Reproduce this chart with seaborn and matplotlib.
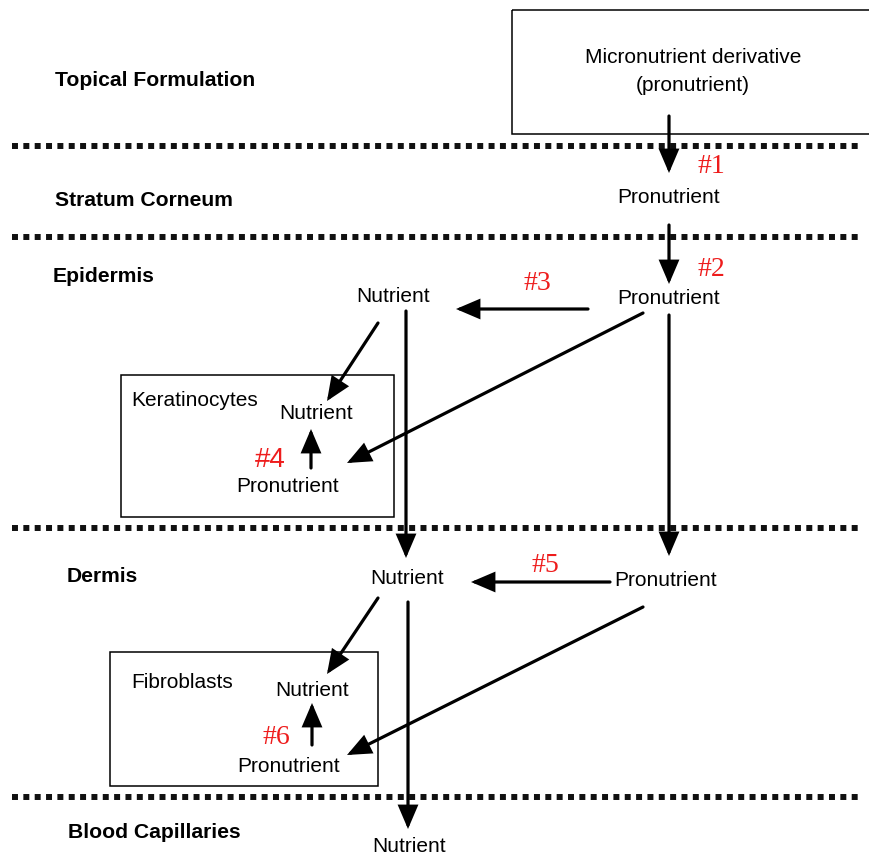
import numpy as np
import matplotlib
matplotlib.use("Agg")
import matplotlib.pyplot as plt
import seaborn as sns
from matplotlib.patches import Rectangle

# --- texts of the diagram ---
layers = ['Topical Formulation', 'Stratum Corneum', 'Epidermis', 'Dermis', 'Blood Capillaries']
node_labels = ['Micronutrient derivative\n(pronutrient)', 'Pronutrient', 'Pronutrient', 'Nutrient',
               'Keratinocytes', 'Nutrient', 'Pronutrient',
               'Nutrient', 'Pronutrient',
               'Fibroblasts', 'Nutrient', 'Pronutrient',
               'Nutrient']
steps = ['#1', '#2', '#3', '#4', '#5', '#6']

# --- layout (pixel coords, y downwards) ---
layer_pos = [(55, 80), (55, 200), (53, 277), (67, 577), (68, 833)]
boundary_y = [146, 237, 528, 797]
node_pos = [(693, 71), (669, 197), (669, 298), (393, 297),
            (131, 400), (316, 413), (288, 486),
            (407, 578), (666, 581),
            (131, 683), (312, 690), (289, 767),
            (409, 847)]
node_ha = ['center', 'center', 'center', 'center',
           'left', 'center', 'center',
           'center', 'center',
           'left', 'center', 'center',
           'center']
step_pos = [(711, 166), (711, 270), (537, 283), (270, 460), (545, 565), (276, 738)]
step_font = ['Liberation Serif', 'Liberation Serif', 'Liberation Serif',
             'Liberation Sans', 'Liberation Serif', 'Liberation Serif']
boxes = [(512, 10, 360, 124), (121, 375, 273, 142), (110, 652, 268, 134)]
arrows = [(669, 116, 669, 173), (669, 225, 669, 284), (588, 309, 456, 309),
          (406, 311, 406, 558), (378, 323, 327, 401), (311, 468, 311, 429),
          (643, 313, 347, 463), (669, 315, 669, 556),
          (610, 582, 471, 582), (408, 602, 408, 829), (378, 598, 327, 674),
          (312, 745, 312, 703), (643, 607, 347, 755)]

sns.set_style('white')
plt.rcParams['font.family'] = ['Liberation Sans', 'DejaVu Sans']
plt.rcParams['text.color'] = 'black'

fig = plt.figure(figsize=(8.70, 8.56), dpi=100)
ax = fig.add_axes([0, 0, 1, 1])
ax.set_xlim(0, 870)
ax.set_ylim(856, 0)
ax.axis('off')

# layer boundaries (square dots)
for y in boundary_y:
    ax.plot([12, 858], [y, y], color='#111111', lw=4.3,
            linestyle=(0, (1.0, 0.9)), solid_capstyle='butt', dash_capstyle='butt')

for name, (x, y) in zip(layers, layer_pos):
    ax.text(x, y, name, fontsize=15.2, fontweight='bold', ha='left', va='center')

for (x, y, w, h) in boxes:
    ax.add_patch(Rectangle((x, y), w, h, fill=False, edgecolor='black', lw=1.1, zorder=2))

for lab, (x, y), ha in zip(node_labels, node_pos, node_ha):
    ax.text(x, y, lab, fontsize=15, ha=ha, va='center', linespacing=1.6, zorder=3)

for lab, (x, y), fam in zip(steps, step_pos, step_font):
    ax.text(x, y, lab, fontsize=20, color='#ee1c1c', ha='center', va='center', family=fam)

for (x0, y0, x1, y1) in arrows:
    ax.annotate('', xy=(x1, y1), xytext=(x0, y0),
                arrowprops=dict(arrowstyle='-|>,head_length=0.75,head_width=0.32',
                                lw=2.3, color='black', shrinkA=0, shrinkB=0,
                                joinstyle='miter', mutation_scale=18), zorder=4)

fig.savefig('out.png', dpi=100, facecolor='white')
